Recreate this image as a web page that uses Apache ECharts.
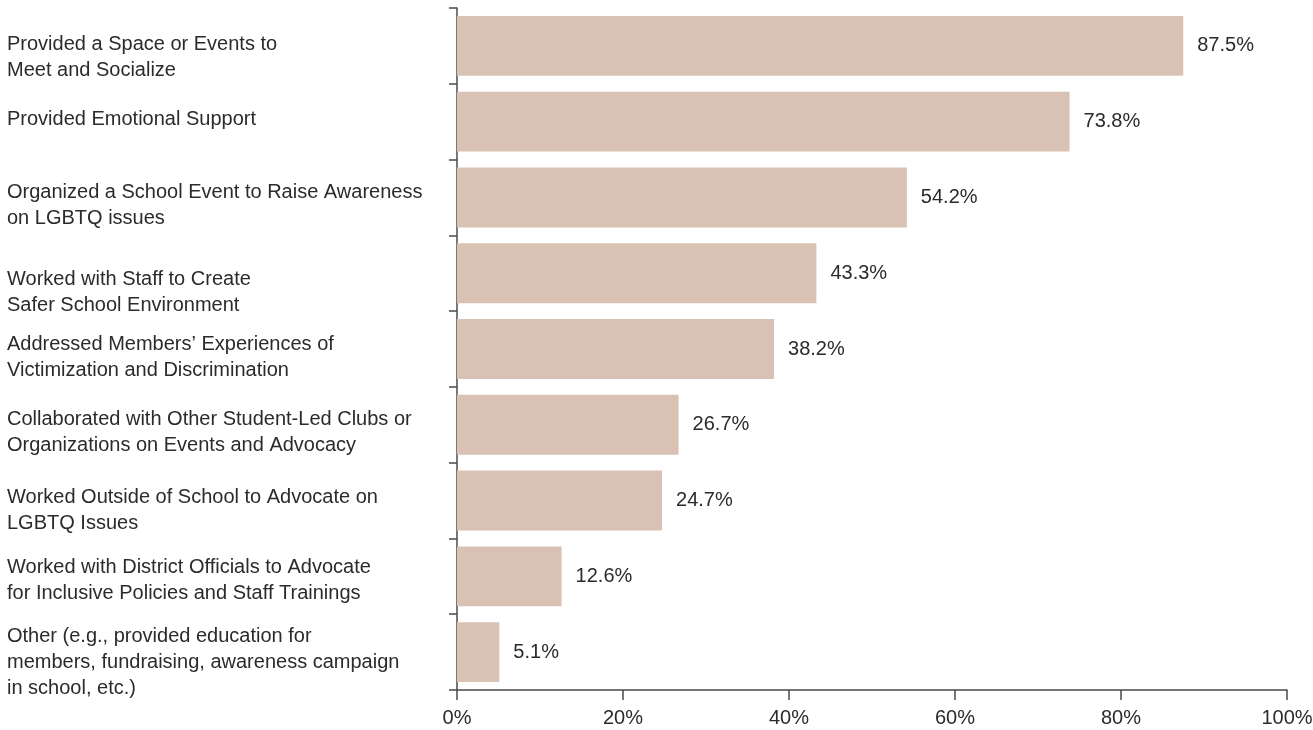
<!DOCTYPE html>
<html>
<head>
<meta charset="utf-8">
<script src="https://cdn.jsdelivr.net/npm/echarts@6/dist/echarts.min.js"></script>
<style>
  html, body { margin: 0; padding: 0; background: #fff; }
  #chart { width: 1313px; height: 730px; }
</style>
</head>
<body>
<div id="chart"></div>
<script>
// Data
var categories = [
  "Provided a Space or Events to\nMeet and Socialize",
  "Provided Emotional Support",
  "Organized a School Event to Raise Awareness\non LGBTQ issues",
  "Worked with Staff to Create\nSafer School Environment",
  "Addressed Members\u2019 Experiences of\nVictimization and Discrimination",
  "Collaborated with Other Student-Led Clubs or\nOrganizations on Events and Advocacy",
  "Worked Outside of School to Advocate on\nLGBTQ Issues",
  "Worked with District Officials to Advocate\nfor Inclusive Policies and Staff Trainings",
  "Other (e.g., provided education for\nmembers, fundraising, awareness campaign\nin school, etc.)"
];
var values = [87.5, 73.8, 54.2, 43.3, 38.2, 26.7, 24.7, 12.6, 5.1];
var xTicks = [0, 20, 40, 60, 80, 100];

// Layout: vertical shift of each category label (px, downward; negative = upward)
var labelShift = [12, -2, 8, 19, 8, 8, 10, 4, 10];

var FONT = "Liberation Sans, Arial, sans-serif";
var TXT = "#2b2b2b";
var AX = "#4a4a4a";

var rich = { t: { fontFamily: FONT, fontSize: 20, lineHeight: 26, color: TXT, align: 'left' } };
labelShift.forEach(function (s, i) {
  var h = 2 * Math.abs(s);
  if (h > 0) rich['g' + i] = { fontSize: 1, lineHeight: h, height: h, align: 'left' };
});

function catLabel(value, index) {
  var lines = String(value).split('\n').map(function (l) { return '{t|' + l + '}'; });
  var s = labelShift[index];
  if (s > 0) lines.unshift('{g' + index + '| }');
  else if (s < 0) lines.push('{g' + index + '| }');
  return lines.join('\n');
}

var chart = echarts.init(document.getElementById('chart'), null, { renderer: 'canvas' });
chart.setOption({
  animation: false,
  backgroundColor: '#ffffff',
  grid: { left: 457, right: 26, top: 8, bottom: 40, containLabel: false, outerBoundsMode: 'none' },
  xAxis: {
    type: 'value',
    min: xTicks[0],
    max: xTicks[xTicks.length - 1],
    interval: xTicks[1] - xTicks[0],
    axisLine: { show: true, lineStyle: { color: AX, width: 1.5 } },
    axisTick: { show: true, length: 10, lineStyle: { color: AX, width: 1.5 } },
    splitLine: { show: false },
    axisLabel: {
      margin: 18,
      formatter: '{value}%',
      color: TXT,
      fontFamily: FONT,
      fontSize: 20
    }
  },
  yAxis: {
    type: 'category',
    inverse: true,
    data: categories,
    axisLine: { show: true, lineStyle: { color: AX, width: 1.5 } },
    axisTick: { show: true, length: 8, alignWithLabel: false, lineStyle: { color: AX, width: 1.5 } },
    axisLabel: {
      margin: 450,
      align: 'left',
      color: TXT,
      fontFamily: FONT,
      fontSize: 20,
      lineHeight: 26,
      interval: 0,
      formatter: catLabel,
      rich: rich
    }
  },
  series: [{
    type: 'bar',
    data: values,
    barCategoryGap: '21%',
    itemStyle: { color: '#d9c2b3' },
    label: {
      show: true,
      position: 'right',
      distance: 14,
      color: TXT,
      fontFamily: FONT,
      fontSize: 20,
      formatter: function (p) { return p.value.toFixed(1) + '%'; }
    }
  }]
});
</script>
</body>
</html>
